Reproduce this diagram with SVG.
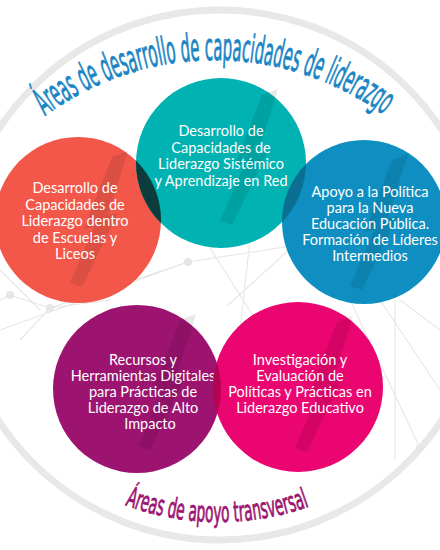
<svg xmlns="http://www.w3.org/2000/svg" xmlns:xlink="http://www.w3.org/1999/xlink" width="440" height="550" viewBox="0 0 440 550">
<style>
.lbl{font-family:Lato,"Open Sans","Liberation Sans",sans-serif;font-size:14.5px;fill:#fff;text-anchor:middle}
.net{stroke:#e6e6e6;stroke-width:1.1;fill:none}
.dot{fill:#e6e6e6}
.mark{fill:#000;opacity:0.09}
.ttl{font-family:"DejaVu Sans","Liberation Sans",sans-serif;font-weight:normal;font-stretch:condensed;stroke-width:0.8;stroke-linejoin:round}
</style>
<defs>
<path id="mk" d="M0,0 L16,-6 L-4,58 L6,56 L-30,130 L-42,126 L-18,70 L-28,72 Z"/>
<clipPath id="cMag"><circle cx="298" cy="387" r="85"/></clipPath>
<clipPath id="cTeal"><circle cx="221" cy="163" r="85"/></clipPath>
<path id="arcTop" d="M45,116 A286,286 0 0 1 385,116"/>
<path id="arcBot" d="M125,505 A268,268 0 0 0 313,505"/>
</defs>
<rect width="440" height="550" fill="#fff"/>
<g id="background">
<circle cx="220" cy="275" r="265" fill="none" stroke="#e8e8e8" stroke-width="7"/>
<path class="net" d="M0,300 L10,295 L50,308 L188,262 L330,240 M0,330 L188,262 M205,240 L262,330 M250,240 L240,330 M300,240 L228,305 M110,300 L50,308 L20,340 M395,300 L395,460 M380,300 L440,390 M400,300 L440,330 M350,300 L420,448 M20,255 L60,300 M0,270 L40,310"/>
<circle class="dot" cx="10" cy="295" r="4"/>
<circle class="dot" cx="50" cy="308" r="4"/>
<circle class="dot" cx="188" cy="262" r="4"/>
<circle class="dot" cx="420" cy="448" r="4"/>
</g>
<g id="connectors"></g>
<g id="n-red">
<circle cx="78" cy="220" r="83" fill="#f2574a"/>
<use xlink:href="#mk" class="mark" x="112" y="157"/>
<text class="lbl"><tspan x="75" y="193">Desarrollo de</tspan><tspan x="75" y="209.5">Capacidades de</tspan><tspan x="75" y="226">Liderazgo dentro</tspan><tspan x="75" y="242.5">de Escuelas y</tspan><tspan x="75" y="259">Liceos</tspan></text>
</g>
<g id="n-blue">
<circle cx="364" cy="222" r="82" fill="#0f8fc1"/>
<use xlink:href="#mk" class="mark" x="392" y="160"/>
<text class="lbl"><tspan x="370" y="197">Apoyo a la Política</tspan><tspan x="370" y="213">para la Nueva</tspan><tspan x="370" y="229">Educación Pública.</tspan><tspan x="370" y="245">Formación de Líderes</tspan><tspan x="370" y="261">Intermedios</tspan></text>
</g>
<g id="n-teal">
<circle cx="221" cy="163" r="85" fill="#00b2b1"/>
<circle cx="78" cy="220" r="83" fill="#0c3c3b" clip-path="url(#cTeal)"/>
<circle cx="364" cy="222" r="82" fill="#0b6f93" clip-path="url(#cTeal)"/>
<use xlink:href="#mk" class="mark" x="262" y="95"/>
<text class="lbl"><tspan x="221" y="136">Desarrollo de</tspan><tspan x="221" y="152.5">Capacidades de</tspan><tspan x="221" y="169">Liderazgo Sistémico</tspan><tspan x="221" y="185.5">y Aprendizaje en Red</tspan></text>
</g>
<g id="n-purple">
<circle cx="137" cy="389" r="84" fill="#9c1470"/>
<use xlink:href="#mk" class="mark" x="180" y="320"/>
<text class="lbl"><tspan x="143" y="365">Recursos y</tspan><tspan x="143" y="381">Herramientas Digitales</tspan><tspan x="143" y="397">para Prácticas de</tspan><tspan x="143" y="413">Liderazgo de Alto</tspan><tspan x="150" y="429">Impacto</tspan></text>
</g>
<g id="n-magenta">
<circle cx="298" cy="387" r="85" fill="#ea0570"/>
<circle cx="137" cy="389" r="84" fill="#b3044f" clip-path="url(#cMag)"/>
<use xlink:href="#mk" class="mark" x="337" y="322"/>
<text class="lbl"><tspan x="300" y="365">Investigación y</tspan><tspan x="300" y="381">Evaluación de</tspan><tspan x="300" y="397">Políticas y Prácticas en</tspan><tspan x="300" y="413">Liderazgo Educativo</tspan></text>
</g>
<g id="title-top">
<text class="ttl" font-size="38" fill="#1a85c4" stroke="#1a85c4"><textPath xlink:href="#arcTop" textLength="362" lengthAdjust="spacingAndGlyphs">Áreas de desarrollo de capacidades de liderazgo</textPath></text>
</g>
<g id="title-bottom">
<text class="ttl" font-size="28" fill="#9c1470" stroke="#9c1470"><textPath xlink:href="#arcBot" textLength="188" lengthAdjust="spacingAndGlyphs">Áreas de apoyo transversal</textPath></text>
</g>
</svg>
